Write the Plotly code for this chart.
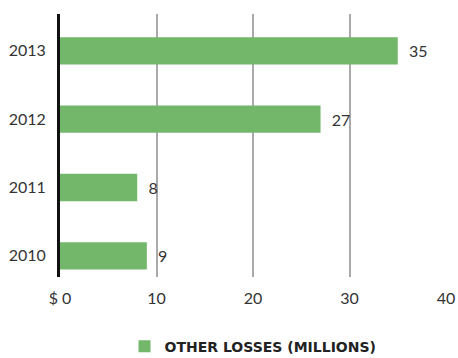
import plotly.graph_objects as go

years = ["2010", "2011", "2012", "2013"]
losses = [9, 8, 27, 35]
x_tick_vals = [0, 10, 20, 30, 40]
x_tick_text = ["$ 0", "10", "20", "30", "40"]

bar_color = "#72b76a"
text_color = "#333333"
font_family = "Lato, 'Open Sans', sans-serif"

fig = go.Figure()
fig.add_trace(go.Bar(
    y=years,
    x=losses,
    orientation="h",
    name="OTHER LOSSES (MILLIONS)",
    marker=dict(color=bar_color, line=dict(width=0)),
    width=0.4,
    text=losses,
    texttemplate="  %{x}",
    textposition="outside",
    textfont=dict(size=16, color=text_color, family=font_family),
    cliponaxis=False,
))

fig.update_layout(
    width=458,
    height=358,
    margin=dict(l=60, r=12, t=14, b=81, autoexpand=False),
    paper_bgcolor="white",
    plot_bgcolor="white",
    font=dict(family=font_family, size=16, color=text_color),
    showlegend=True,
    legend=dict(
        orientation="h",
        x=0.5, xanchor="center",
        y=-0.265, yanchor="middle",
        font=dict(size=14, color="#222222", family="'DejaVu Sans', sans-serif", weight="bold"),
        itemwidth=30,
    ),
    xaxis=dict(
        range=[0, 40],
        tickvals=x_tick_vals,
        ticktext=x_tick_text,
        showgrid=True,
        gridcolor="#aaaaaa",
        gridwidth=1.5,
        zeroline=False,
        showline=False,
        ticks="",
        ticklabelstandoff=10,
        automargin=False,
        tickfont=dict(size=16, color=text_color),
    ),
    yaxis=dict(
        type="category",
        categoryorder="array",
        categoryarray=years,
        range=[-0.31, 3.54],
        showgrid=False,
        zeroline=False,
        showline=True,
        linecolor="#111111",
        linewidth=3,
        ticks="",
        ticklabelstandoff=8,
        automargin=False,
        tickfont=dict(size=16, color=text_color),
    ),
    bargap=0.6,
)

fig.write_html("out.html")
